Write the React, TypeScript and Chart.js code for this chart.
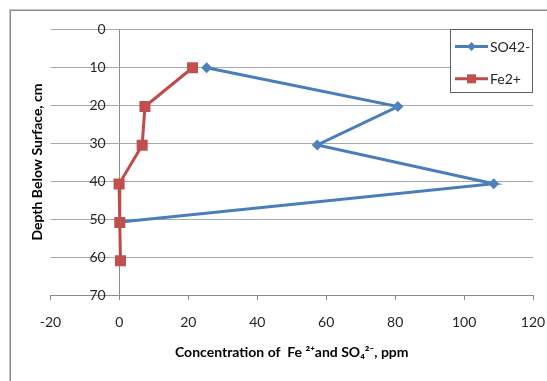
import { useEffect, useRef } from "react";
import { Chart, registerables } from "chart.js";

Chart.register(...registerables);

// Sulfate profile (ppm vs depth, cm)
const so4Depth = [10.2, 20.4, 30.5, 40.7, 50.8];
const so4Conc = [25.3, 80.8, 57.4, 108.6, 0.3];

// Ferrous iron profile (ppm vs depth, cm)
const feDepth = [10.2, 20.4, 30.6, 40.8, 50.9, 61.0];
const feConc = [21.2, 7.4, 6.6, -0.1, 0.1, 0.3];

const seriesNames = ["SO42-", "Fe2+"];
const xTickValues = [-20, 0, 20, 40, 60, 80, 100, 120];
const yTickValues = [0, 10, 20, 30, 40, 50, 60, 70];

const xTitle = "Concentration of  Fe \u00B2\u207Aand SO\u2084\u00B2\u207B, ppm";
const yTitle = "Depth Below Surface, cm";

const FONT = "Lato, 'Open Sans', sans-serif";
const BLUE = "#4A7EBB";
const BLUE_FILL = "#4F81BD";
const RED = "#BE4B48";
const RED_FILL = "#C0504D";
const GRID = "#a8a8a8";
const AXIS = "#8c8c8c";

const toPoints = (xs: number[], ys: number[]) => xs.map((x, i) => ({ x, y: ys[i] }));

// Thin frame around the whole chart object
const frame = {
  id: "frame",
  beforeDraw(chart: any) {
    const { ctx } = chart;
    ctx.save();
    ctx.strokeStyle = AXIS;
    ctx.lineWidth = 1.5;
    ctx.strokeRect(10.25, 10.25, 800, 800);
    ctx.restore();
  },
};

// Boxed legend in the top-right corner of the plot, line + marker samples
const boxLegend = {
  id: "boxLegend",
  afterDraw(chart: any) {
    const { ctx, chartArea } = chart;
    const w = 83;
    const h = 64;
    const x0 = chartArea.right - w;
    const y0 = chartArea.top;
    ctx.save();
    ctx.fillStyle = "#ffffff";
    ctx.fillRect(x0, y0, w, h);
    ctx.strokeStyle = "#606060";
    ctx.lineWidth = 1;
    ctx.strokeRect(x0 + 0.5, y0 + 0.5, w - 1, h - 1);
    chart.data.datasets.forEach((ds: any, i: number) => {
      const y = y0 + 17.5 + i * 32.3;
      const lx0 = x0 + 5;
      const lx1 = x0 + 38;
      const mx = (lx0 + lx1) / 2;
      ctx.strokeStyle = ds.borderColor;
      ctx.lineWidth = 3;
      ctx.beginPath();
      ctx.moveTo(lx0, y);
      ctx.lineTo(lx1, y);
      ctx.stroke();
      ctx.fillStyle = ds.pointBackgroundColor;
      ctx.beginPath();
      if (ds.pointStyle === "rectRot") {
        const r = 4.5;
        ctx.moveTo(mx, y - r);
        ctx.lineTo(mx + r, y);
        ctx.lineTo(mx, y + r);
        ctx.lineTo(mx - r, y);
        ctx.closePath();
      } else {
        ctx.rect(mx - 4.5, y - 4.5, 9, 9);
      }
      ctx.fill();
      ctx.fillStyle = "#262626";
      ctx.font = `14px ${FONT}`;
      ctx.textAlign = "left";
      ctx.textBaseline = "middle";
      ctx.fillText(ds.label, lx1 + 2, y + 0.5);
    });
    ctx.restore();
  },
};

export default function App() {
  const canvasRef = useRef<HTMLCanvasElement | null>(null);

  useEffect(() => {
    const canvas = canvasRef.current;
    if (!canvas) return;
    Chart.defaults.font.family = FONT;

    const chart = new Chart(canvas, {
      type: "scatter",
      data: {
        datasets: [
          {
            label: seriesNames[0],
            data: toPoints(so4Conc, so4Depth),
            showLine: true,
            borderColor: BLUE,
            borderWidth: 3,
            pointStyle: "rectRot",
            pointRadius: 5.5,
            pointBackgroundColor: BLUE_FILL,
            pointBorderColor: BLUE_FILL,
            pointBorderWidth: 0,
            order: 1,
          },
          {
            label: seriesNames[1],
            data: toPoints(feConc, feDepth),
            showLine: true,
            borderColor: RED,
            borderWidth: 3,
            pointStyle: "rect",
            pointRadius: 7.8,
            pointBackgroundColor: RED_FILL,
            pointBorderColor: RED_FILL,
            pointBorderWidth: 0,
            order: 0,
          },
        ],
      },
      options: {
        responsive: false,
        animation: false,
        layout: { padding: { left: 29, top: 29, right: 14, bottom: 20.6 } },
        plugins: {
          legend: { display: false },
          tooltip: { enabled: false },
        },
        scales: {
          x: {
            type: "linear",
            position: "bottom",
            min: xTickValues[0],
            max: xTickValues[xTickValues.length - 1],
            afterBuildTicks: (scale: any) => {
              scale.ticks = xTickValues.map((v) => ({ value: v }));
            },
            // fixed band below the plot for tick labels and title
            afterFit: (scale: any) => {
              scale.height = 65.4;
              scale.paddingLeft = 0;
              scale.paddingRight = 0;
            },
            grid: {
              drawOnChartArea: true,
              // only the zero line is drawn as the vertical axis
              color: (ctx: any) => (ctx.tick && ctx.tick.value === 0 ? AXIS : "rgba(0,0,0,0)"),
              tickColor: AXIS,
              tickLength: 5,
              lineWidth: 1,
            },
            border: { display: true, color: AXIS, width: 1 },
            ticks: {
              padding: 14,
              color: "#262626",
              font: { size: 14, family: FONT },
              maxRotation: 0,
            },
            title: {
              display: true,
              text: xTitle,
              color: "#000000",
              font: { size: 14, weight: "bold", family: FONT },
              padding: { top: 0, bottom: 0 },
            },
          },
          y: {
            type: "linear",
            reverse: true,
            min: yTickValues[0],
            max: yTickValues[yTickValues.length - 1],
            // labels sit just left of the zero line
            position: { x: -4 } as any,
            afterBuildTicks: (scale: any) => {
              scale.ticks = yTickValues.map((v) => ({ value: v }));
            },
            // drawn inside the plot, so it takes no room of its own
            afterFit: (scale: any) => {
              scale.width = 0;
              scale.paddingTop = 0;
              scale.paddingBottom = 0;
            },
            grid: { color: GRID, lineWidth: 1, drawTicks: false },
            border: { display: false },
            ticks: {
              color: "#262626",
              font: { size: 14, family: FONT },
            },
          },
          yTitleAxis: {
            type: "linear",
            position: "left",
            display: true,
            grid: { display: false, drawTicks: false },
            border: { display: false },
            ticks: { display: false },
            title: {
              display: true,
              text: yTitle,
              color: "#000000",
              font: { size: 14, weight: "bold", family: FONT },
              padding: { top: 0, bottom: 4.7 },
            },
          },
        },
      } as any,
      plugins: [frame, boxLegend],
    });

    return () => chart.destroy();
  }, []);

  return (
    <div style={{ position: "fixed", left: 0, top: 0, width: 547, height: 381, background: "#fff" }}>
      <canvas ref={canvasRef} width={547} height={381} style={{ display: "block" }} />
    </div>
  );
}
